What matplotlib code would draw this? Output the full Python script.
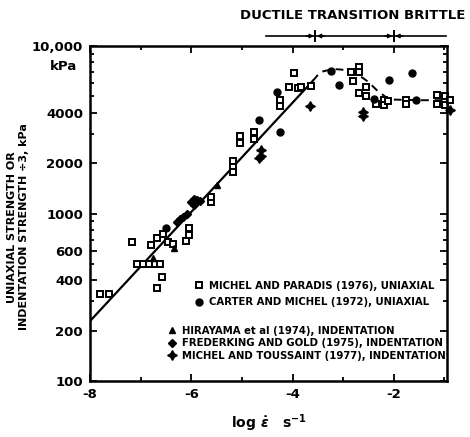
import matplotlib
matplotlib.use("Agg")
import matplotlib.pyplot as plt
from matplotlib.ticker import FixedLocator, LogLocator, NullFormatter
import matplotlib.transforms as mtransforms

plt.rcParams["font.family"] = ["DejaVu Sans"]
plt.rcParams["font.weight"] = "bold"

# log strain rate (s^-1) vs strength (kPa)
mp_x = [-7.80, -7.62, -7.17, -7.08, -6.96, -6.84, -6.72, -6.62, -6.57, -6.67,
        -6.80, -6.67, -6.55, -6.45, -6.36, -6.10, -6.04, -6.04, -5.62, -5.62,
        -5.17, -5.17, -5.17, -5.03, -5.03, -4.77, -4.77, -4.24, -4.24, -4.08,
        -3.98, -3.90, -3.84, -3.64, -2.85, -2.81, -2.69, -2.69, -2.69, -2.55,
        -2.55, -2.35, -2.20, -2.20, -2.12, -1.76, -1.76, -1.15, -1.15, -0.98,
        -0.98, -0.90]
mp_y = [330, 330, 680, 500, 500, 500, 500, 500, 420, 360,
        650, 710, 750, 680, 660, 690, 820, 740, 1170, 1250,
        2050, 1900, 1780, 2900, 2650, 3050, 2800, 4750, 4400, 5700,
        6900, 5600, 5700, 5800, 7000, 6200, 7500, 7000, 5250, 5700,
        5000, 4500, 4750, 4450, 4700, 4750, 4500, 5100, 4500, 5000,
        4450, 4750]

cm_x = [-6.50, -4.67, -4.24, -4.30, -3.25, -3.09, -2.40, -2.10, -1.64, -1.56]
cm_y = [820, 3600, 3070, 5300, 7100, 5850, 4800, 6300, 6900, 4750]

hir_x = [-6.75, -6.34, -5.50]
hir_y = [540, 620, 1480]

fg_x = [-6.28, -6.22, -6.16, -6.08, -6.00, -5.95, -5.88, -5.82, -5.95]
fg_y = [890, 930, 950, 1000, 1180, 1230, 1200, 1190, 1120]

mt_x = [-4.63, -4.63, -4.67, -3.66, -2.60, -2.60, -0.90]
mt_y = [2400, 2200, 2150, 4400, 4050, 3800, 4150]

trend_x = [-8.0, -3.6]
trend_y = [228, 6200]

peak_x = [-3.6, -3.45, -3.2, -2.95, -2.75, -2.5, -2.35, -2.1, -1.5, -0.95]
peak_y = [6200, 7000, 7300, 7200, 6900, 6100, 5500, 4800, 4750, 4750]

y_ticks = [100, 200, 400, 600, 1000, 2000, 4000, 10000]
y_labels = ["100", "200", "400", "600", "1000", "2000", "4000", "10,000"]
x_ticks = [-8, -6, -4, -2]
x_labels = ["-8", "-6", "-4", "-2"]

regime_x = [-4.53, -3.55, -2.0, -0.97]

fig = plt.figure(figsize=(4.70, 4.37), dpi=100)
ax = fig.add_axes([0.1915, 0.128, 0.7596, 0.7666])

ax.plot(trend_x, trend_y, color="black", lw=1.6)
ax.plot(peak_x, peak_y, color="black", lw=1.4, ls=(0, (4, 3)))

kw = dict(ls="none", color="black", clip_on=False)
ax.plot(mp_x, mp_y, marker="s", ms=4.8, mfc="white", mec="black", mew=1.4,
        label="MICHEL AND PARADIS (1976), UNIAXIAL", **kw)
ax.plot(cm_x, cm_y, marker="o", ms=5, label="CARTER AND MICHEL (1972), UNIAXIAL", **kw)
ax.plot(hir_x, hir_y, marker="^", ms=5, label="HIRAYAMA et al (1974), INDENTATION", **kw)
ax.plot(fg_x, fg_y, marker="D", ms=4.5, label="FREDERKING AND GOLD (1975), INDENTATION", **kw)
ax.plot(mt_x, mt_y, marker=(4, 1, 0), ms=7, label="MICHEL AND TOUSSAINT (1977), INDENTATION", **kw)

ax.set_yscale("log")
ax.set_ylim(100, 10000)
ax.set_xlim(-8, -0.95)

ax.yaxis.set_major_locator(FixedLocator(y_ticks))
ax.set_yticklabels(y_labels)
ax.yaxis.set_minor_locator(LogLocator(base=10, subs=range(2, 10)))
ax.yaxis.set_minor_formatter(NullFormatter())
ax.set_xticks(x_ticks)
ax.set_xticklabels(x_labels)
ax.xaxis.set_minor_locator(FixedLocator(range(-7, 0)))

ax.tick_params(which="both", direction="in", top=True, right=True, width=1.3,
               labelsize=9.5)
ax.tick_params(which="major", length=5, pad=5)
ax.tick_params(which="minor", length=3)
for s in ax.spines.values():
    s.set_linewidth(1.8)

ax.text(-0.035, 0.94, "kPa", transform=ax.transAxes, ha="right", va="center",
        fontsize=9.5, fontweight="bold")

ax.set_xlabel("log $\\dot{\\epsilon}$   s$^{-1}$", fontsize=10, fontweight="bold", labelpad=8)
ax.set_ylabel("UNIAXIAL STRENGTH OR\nINDENTATION STRENGTH \u00f73, kPa",
              fontsize=8, fontweight="bold", linespacing=1.15)
ax.yaxis.set_label_coords(-0.172, 0.46)

# regime bar above the plot
trans = mtransforms.blended_transform_factory(ax.transData, ax.transAxes)
ax.plot([regime_x[0], regime_x[-1]], [1.03, 1.03], color="black", lw=1.2,
        transform=trans, clip_on=False)
for xb in regime_x[1:3]:
    ax.plot([xb, xb], [1.015, 1.045], color="black", lw=1.4, transform=trans, clip_on=False)
    for d in (-0.18, 0.18):
        ax.annotate("", xy=(xb, 1.03), xytext=(xb + d, 1.03), xycoords=trans,
                    textcoords=trans,
                    arrowprops=dict(arrowstyle="-|>", color="black", lw=1.0,
                                    mutation_scale=6, shrinkA=0, shrinkB=1))
fig.text(0.99, 0.965, "DUCTILE TRANSITION BRITTLE", ha="right", va="center",
         fontsize=9.5, fontweight="bold")

handles, labels = ax.get_legend_handles_labels()
leg1 = ax.legend(handles[:2], labels[:2], loc="upper left", bbox_to_anchor=(0.29, 0.30),
                 frameon=False, fontsize=7.3, borderpad=0, borderaxespad=0,
                 handlelength=1, handletextpad=0.5, labelspacing=0.65)
ax.add_artist(leg1)
ax.legend(handles[2:], labels[2:], loc="upper left", bbox_to_anchor=(0.215, 0.165),
          frameon=False, fontsize=7.3, borderpad=0, borderaxespad=0,
          handlelength=1, handletextpad=0.5, labelspacing=0.25)

fig.savefig("out.png", dpi=100)
